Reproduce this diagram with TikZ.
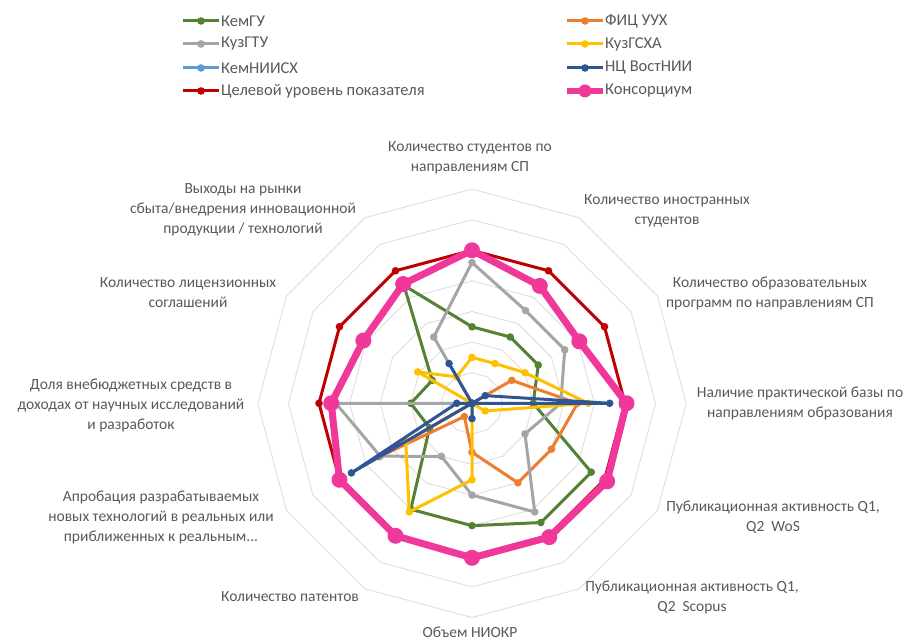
\documentclass[tikz,border=0pt]{standalone}
\usepackage{fontspec}
\setmainfont{Carlito}

\definecolor{kemgu}{HTML}{548235}
\definecolor{fic}{HTML}{ED7D31}
\definecolor{kuzgtu}{HTML}{A5A5A5}
\definecolor{kuzgsha}{HTML}{FFC000}
\definecolor{kemniish}{HTML}{5B9BD5}
\definecolor{vostnii}{HTML}{2F5597}
\definecolor{target}{HTML}{C00000}
\definecolor{consort}{HTML}{F0389A}
\definecolor{labelgray}{HTML}{595959}
\definecolor{gridgray}{HTML}{DDDDDD}

\tikzset{
    axislabel/.style={text=labelgray,align=center,inner sep=0pt,font=\fontsize{15.5}{20}\selectfont},
    legendtext/.style={text=labelgray,anchor=west,inner sep=1pt,font=\fontsize{16.5}{20}\selectfont},
    gridring/.style={draw=gridgray,line width=0.9pt},
}

% one series of the radar: name, colour, line width, dot radius, 12 values
\newcommand\radarseries[5]{%
    \foreach \v [count=\k from 0] in {#5} \coordinate (#1\k) at (90-30*\k:\v);
    \draw[#2,line width=#3,line join=round] (#10) \foreach \k in {1,...,11} {-- (#1\k)} -- cycle;
    \foreach \k in {0,...,11} \fill[#2] (#1\k) circle (#4);
}

\begin{document}
\begin{tikzpicture}[x=1pt,y=1pt]
    \useasboundingbox (0,0) rectangle (908,644);

    % legend
    \foreach \n/\x/\y/\c/\w/\r/\t in {
        l1/183/623/kemgu/3pt/3.8pt/КемГУ,
        l2/183/600/kuzgtu/3pt/3.8pt/КузГТУ,
        l3/183/576/kemniish/3pt/3.8pt/КемНИИСХ,
        l4/183/553/target/3pt/3.8pt/Целевой уровень показателя,
        l5/567/623/fic/3pt/3.8pt/ФИЦ УУХ,
        l6/567/600/kuzgsha/3pt/3.8pt/КузГСХА,
        l7/567/576/vostnii/3pt/3.8pt/НЦ ВостНИИ,
        l8/567/553/consort/6pt/6.5pt/Консорциум}
    {
        \draw[\c,line width=\w] (\x,\y) -- ++(36,0);
        \fill[\c] (\x+18,\y) circle (\r);
        \node[legendtext] (\n) at (\x+37,\y) {\t};
    }

    \begin{scope}[shift={(472,240.7)},x=30.6pt,y=30.6pt]
        % grid
        \foreach \i in {1,...,7}
            \draw[gridring] (90:\i) \foreach \k in {1,...,11} {-- (90-30*\k:\i)} -- cycle;
        % series
        \radarseries{g}{kemgu}{3pt}{3.8pt}{2.5,2.5,2.5,2.0,4.5,4.5,4.0,4.0,1.6,2.0,1.5,4.45}
        \radarseries{f}{fic}{3pt}{3.8pt}{0,0,1.5,3.45,3.0,3.0,1.6,0.5,3.5,0,0,0}
        \radarseries{t}{kuzgtu}{3pt}{3.8pt}{4.6,3.5,3.5,2.9,2.0,4.1,3.0,2.0,3.46,4.45,0,2.5}
        \radarseries{s}{kuzgsha}{3pt}{3.8pt}{1.5,1.5,2.0,3.8,0.5,0,2.5,4.1,2.5,0,2.05,1.0}
        \radarseries{v}{vostnii}{3pt}{3.8pt}{0,0,0.5,4.5,0,0,0.5,0,4.55,0.5,0,1.5}
        \radarseries{r}{target}{3pt}{3.8pt}{5,5,5,5,5,5,5,5,5,5,5,5}
        \radarseries{c}{consort}{7pt}{8pt}{5,4.43,4.05,5.05,5.1,5.05,5.05,5,5,4.6,4.1,4.5}
    \end{scope}

    % axis labels
    \node[axislabel] (a0) at (470,486) {Количество студентов по\\направлениям СП};
    \node[axislabel] (a1) at (667,433) {Количество иностранных\\студентов};
    \node[axislabel] (a2) at (770,351) {Количество образовательных\\программ по направлениям СП};
    \node[axislabel] (a3) at (800,241) {Наличие практической базы по\\направлениям образования};
    \node[axislabel] (a4) at (773,127) {Публикационная активность Q1,\\Q2\ \ WoS};
    \node[axislabel] (a5) at (692,46.5) {Публикационная активность Q1,\\Q2\ \ Scopus};
    \node[axislabel] (a6) at (470,12) {Объем НИОКР};
    \node[axislabel] (a7) at (290,47) {Количество патентов};
    \node[axislabel] (a8) at (161,127) {Апробация разрабатываемых\\новых технологий в реальных или\\приближенных к реальным...};
    \node[axislabel] (a9) at (131,239) {Доля внебюджетных средств в\\доходах от научных исследований\\и разработок};
    \node[axislabel] (a10) at (188,351) {Количество лицензионных\\соглашений};
    \node[axislabel] (a11) at (243,434) {Выходы на рынки\\сбыта/внедрения инновационной\\продукции / технологий};
\end{tikzpicture}
\end{document}
